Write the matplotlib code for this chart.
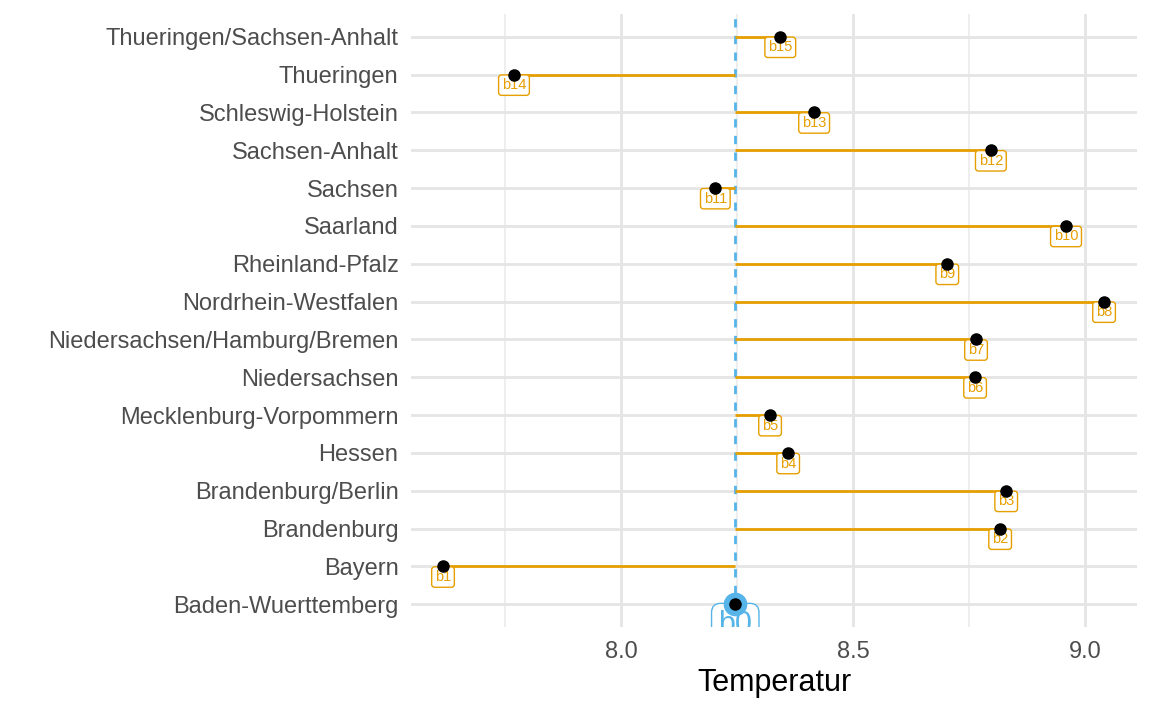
import matplotlib.pyplot as plt

states = ["Baden-Wuerttemberg", "Bayern", "Brandenburg", "Brandenburg/Berlin", "Hessen",
          "Mecklenburg-Vorpommern", "Niedersachsen", "Niedersachsen/Hamburg/Bremen",
          "Nordrhein-Westfalen", "Rheinland-Pfalz", "Saarland", "Sachsen",
          "Sachsen-Anhalt", "Schleswig-Holstein", "Thueringen", "Thueringen/Sachsen-Anhalt"]
temps = [8.246, 7.616, 8.817, 8.830, 8.360, 8.321, 8.763, 8.765,
         9.041, 8.703, 8.959, 8.203, 8.797, 8.416, 7.769, 8.343]
labels = ["b%d" % i for i in range(len(states))]

orange = "#E69F00"
blue = "#56B4E9"
base = temps[0]

plt.rcParams['font.family'] = ['Liberation Sans', 'DejaVu Sans']
fig = plt.figure(figsize=(11.52, 7.11), dpi=100)
ax = fig.add_axes([411/1152, 1-627/711, (1137-411)/1152, (627-14)/711])

ys = list(range(1, len(states) + 1))
ax.set_xlim(7.547, 9.112)
ax.set_ylim(0.4, 16.6)

for x in [7.75, 8.25, 8.75]:
    ax.axvline(x, color="#ebebeb", lw=1.2, zorder=0)
for x in [8.0, 8.5, 9.0]:
    ax.axvline(x, color="#e5e5e5", lw=2.0, zorder=0)
for y in ys:
    ax.axhline(y, color="#e5e5e5", lw=2.0, zorder=0)

for y, t, lab in zip(ys[1:], temps[1:], labels[1:]):
    ax.plot([base, t], [y, y], color=orange, lw=2, zorder=2, solid_capstyle='butt')
    ax.plot(t, y, 'o', color='black', ms=8, zorder=4)
    ax.text(t, y - 0.28, lab, color=orange, fontsize=10.5, ha='center', va='center', zorder=3,
            bbox=dict(boxstyle='round,pad=0.22,rounding_size=0.2', fc='white', ec=orange, lw=1))

ax.axvline(base, color=blue, lw=2, ls=(0, (3, 3)), zorder=1)
ax.plot(base, ys[0], 'o', color=blue, ms=16, zorder=4)
ax.plot(base, ys[0], 'o', color='black', ms=8, zorder=5)
ax.text(base, ys[0] - 0.55, labels[0], color=blue, fontsize=22, ha='center', va='center', zorder=3,
        bbox=dict(boxstyle='round,pad=0.22,rounding_size=0.3', fc='white', ec=blue, lw=1),
        clip_on=True)

ax.set_yticks(ys)
ax.set_yticklabels(states)
ax.set_xticks([8.0, 8.5, 9.0])
ax.set_xticklabels(["8.0", "8.5", "9.0"])
ax.tick_params(length=0, labelsize=17, labelcolor="#4d4d4d")
ax.tick_params(axis='y', pad=9)
ax.tick_params(axis='x', pad=10)
ax.set_xlabel("Temperatur", fontsize=22, labelpad=4)
for s in ax.spines.values():
    s.set_visible(False)

fig.savefig("out.png", dpi=100)
